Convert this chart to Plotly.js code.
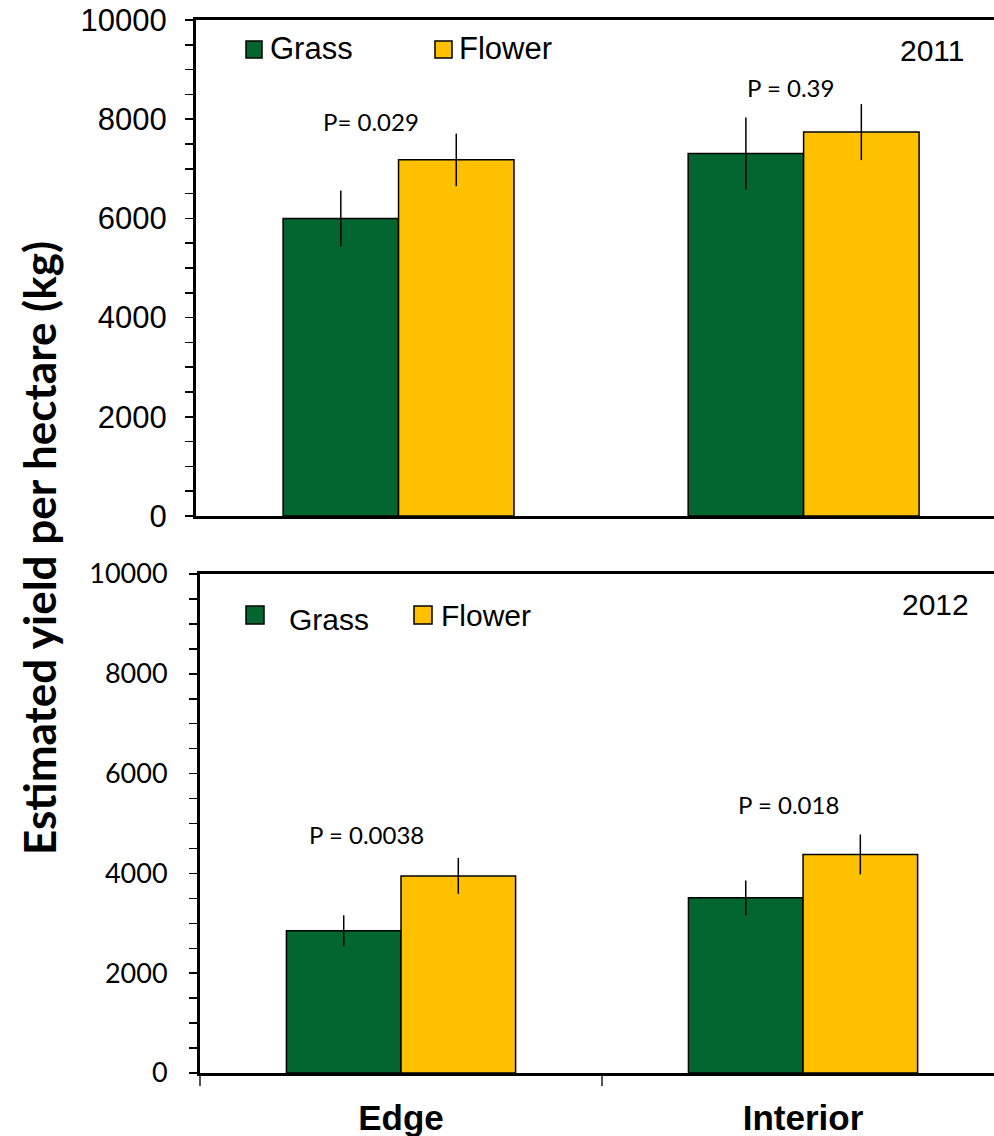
<!DOCTYPE html>
<html>
<head>
<meta charset="utf-8">
<script src="https://cdn.plot.ly/plotly-3.0.1.min.js"></script>
<style>
  html, body { margin: 0; padding: 0; background: #fff; }
  #chart { width: 994px; height: 1136px; }
</style>
</head>
<body>
<div id="chart"></div>
<script>
// ---- Data ----
const categories = ['Edge', 'Interior'];
const seriesNames = ['Grass', 'Flower'];
const years = ['2011', '2012'];

const grass2011 = [6000, 7310];
const grass2011Err = [560, 725];
const flower2011 = [7180, 7740];
const flower2011Err = [530, 565];

const grass2012 = [2850, 3510];
const grass2012Err = [310, 350];
const flower2012 = [3950, 4380];
const flower2012Err = [360, 400];

const pTop = ['P= 0.029', 'P = 0.39'];
const pBottom = ['P = 0.0038', 'P = 0.018'];

const yTickVals = [0, 2000, 4000, 6000, 8000, 10000];
const yTickText = ['0', '2000', '4000', '6000', '8000', '10000'];

const yTitle = 'Estimated yield per hectare (kg)';

// ---- Styling ----
const W = 994, H = 1136;
const GREEN = '#03652F';
const YELLOW = '#FFC000';
const px = x => x / W;
const py = y => (H - y) / H;

function barTrace(name, xs, ys, errs, color, xa, ya) {
  return {
    type: 'bar', name: name, x: xs, y: ys,
    xaxis: xa, yaxis: ya,
    marker: { color: color, line: { color: '#000', width: 1.5 } },
    error_y: { type: 'data', array: errs, visible: true, color: '#000', thickness: 1.5, width: 0 },
    showlegend: false, hoverinfo: 'skip'
  };
}

const data = [
  barTrace(seriesNames[0], categories, grass2011, grass2011Err, GREEN, 'x', 'y'),
  barTrace(seriesNames[1], categories, flower2011, flower2011Err, YELLOW, 'x', 'y'),
  barTrace(seriesNames[0], categories, grass2012, grass2012Err, GREEN, 'x2', 'y2'),
  barTrace(seriesNames[1], categories, flower2012, flower2012Err, YELLOW, 'x2', 'y2')
];

const yAxisBase = {
  range: [0, 10000], showgrid: false, zeroline: false,
  showline: true, linecolor: '#000', linewidth: 3,
  tickmode: 'array', tickvals: yTickVals, ticktext: yTickText,
  ticks: 'outside', ticklen: 8, tickwidth: 1.5, tickcolor: '#000',
  minor: { dtick: 500, ticks: 'outside', ticklen: 8, tickwidth: 1.5, tickcolor: '#000', showgrid: false }
};

const legendFont = { family: 'Liberation Sans, Arial', size: 31, color: '#000' };
const legendFont2 = { family: 'Liberation Sans, Arial', size: 30, color: '#000' };
const yearFont = { family: 'Liberation Sans, Arial', size: 30, color: '#000' };
const pFont = { family: 'Lato, Open Sans', size: 24, color: '#000' };

const layout = {
  width: W, height: H,
  margin: { l: 0, r: 0, t: 0, b: 0 },
  paper_bgcolor: '#fff', plot_bgcolor: '#fff',
  bargap: 0.43, bargroupgap: 0, barmode: 'group',
  showlegend: false,
  xaxis: {
    domain: [196 / W, 1], range: [-0.5, 1.47], type: 'category',
    showline: true, mirror: true, linecolor: '#000', linewidth: 3,
    showticklabels: false, ticks: '', showgrid: false, zeroline: false
  },
  yaxis: Object.assign({}, yAxisBase, {
    domain: [py(516), py(20)],
    tickfont: { family: 'Liberation Sans, Arial', size: 31, color: '#000' },
    ticklabelstandoff: 12
  }),
  xaxis2: {
    domain: [200 / W, 1], range: [-0.5, 1.475], type: 'category',
    anchor: 'y2',
    showline: true, mirror: true, linecolor: '#000', linewidth: 3,
    showticklabels: true, tickson: 'boundaries',
    ticks: 'outside', ticklen: 10, tickwidth: 1.2, tickcolor: '#555',
    tickfont: { family: 'Liberation Sans, Arial', size: 35, color: '#000', weight: 'bold' },
    ticklabelstandoff: 12,
    showgrid: false, zeroline: false
  },
  yaxis2: Object.assign({}, yAxisBase, {
    domain: [py(1073), py(574)], anchor: 'x2',
    tickfont: { family: 'Lato, Open Sans', size: 27, color: '#000' },
    ticklabelstandoff: 16
  }),
  shapes: [
    // legend swatches, panel 2011
    { type: 'rect', xref: 'paper', yref: 'paper', x0: px(246), x1: px(262), y0: py(58), y1: py(41), fillcolor: GREEN, line: { color: '#000', width: 1.5 } },
    { type: 'rect', xref: 'paper', yref: 'paper', x0: px(435), x1: px(452), y0: py(58), y1: py(41), fillcolor: YELLOW, line: { color: '#000', width: 1.5 } },
    // legend swatches, panel 2012
    { type: 'rect', xref: 'paper', yref: 'paper', x0: px(246), x1: px(264), y0: py(624), y1: py(606), fillcolor: GREEN, line: { color: '#000', width: 1.5 } },
    { type: 'rect', xref: 'paper', yref: 'paper', x0: px(414), x1: px(432), y0: py(624), y1: py(606), fillcolor: YELLOW, line: { color: '#000', width: 1.5 } }
  ],
  annotations: [
    // legend labels
    { xref: 'paper', yref: 'paper', x: px(268), y: py(49), xanchor: 'left', yanchor: 'middle', text: seriesNames[0], showarrow: false, font: legendFont },
    { xref: 'paper', yref: 'paper', x: px(457), y: py(49), xanchor: 'left', yanchor: 'middle', text: seriesNames[1], showarrow: false, font: legendFont },
    { xref: 'paper', yref: 'paper', x: px(287), y: py(619), xanchor: 'left', yanchor: 'middle', text: seriesNames[0], showarrow: false, font: legendFont2 },
    { xref: 'paper', yref: 'paper', x: px(439), y: py(615), xanchor: 'left', yanchor: 'middle', text: seriesNames[1], showarrow: false, font: legendFont2 },
    // year labels
    { xref: 'paper', yref: 'paper', x: px(932), y: py(50), xanchor: 'center', yanchor: 'middle', text: years[0], showarrow: false, font: yearFont },
    { xref: 'paper', yref: 'paper', x: px(935), y: py(604), xanchor: 'center', yanchor: 'middle', text: years[1], showarrow: false, font: yearFont },
    // P values
    { xref: 'x', yref: 'y', x: -0.068, y: 7944, xanchor: 'center', yanchor: 'middle', text: pTop[0], showarrow: false, font: pFont },
    { xref: 'x', yref: 'y', x: 0.967, y: 8629, xanchor: 'center', yanchor: 'middle', text: pTop[1], showarrow: false, font: pFont },
    { xref: 'x2', yref: 'y2', x: -0.087, y: 4779, xanchor: 'center', yanchor: 'middle', text: pBottom[0], showarrow: false, font: pFont },
    { xref: 'x2', yref: 'y2', x: 0.965, y: 5382, xanchor: 'center', yanchor: 'middle', text: pBottom[1], showarrow: false, font: pFont },
    // shared y title
    { xref: 'paper', yref: 'paper', x: px(39), y: py(548), xanchor: 'center', yanchor: 'middle', textangle: -90, text: yTitle, showarrow: false, font: { family: 'Lato, Open Sans', size: 44, color: '#000', weight: 'bold' } }
  ]
};

Plotly.newPlot('chart', data, layout, { staticPlot: true, displayModeBar: false });
</script>
</body>
</html>
